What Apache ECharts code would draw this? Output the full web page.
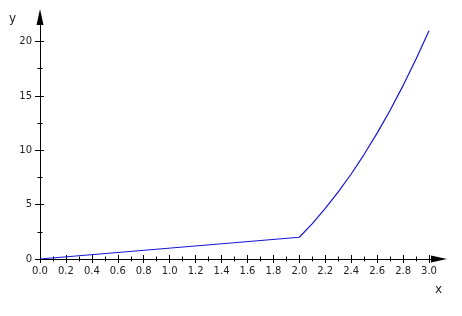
<!DOCTYPE html>
<html>
<head>
<meta charset="utf-8">
<script src="https://cdn.jsdelivr.net/npm/echarts@6/dist/echarts.min.js"></script>
<style>
html,body{margin:0;padding:0;background:#fff;}
#chart{width:462px;height:316px;}
</style>
</head>
<body>
<div id="chart"></div>
<script>
// Data
var xValues = [0, 2.0, 2.1, 2.2, 2.3, 2.4, 2.5, 2.6, 2.7, 2.8, 2.9, 3.0];
var yValues = [0, 2.0, 3.26, 4.65, 6.17, 7.82, 9.63, 11.58, 13.68, 15.95, 18.39, 21.0];
var xMajorTicks = [0, 0.2, 0.4, 0.6, 0.8, 1.0, 1.2, 1.4, 1.6, 1.8, 2.0, 2.2, 2.4, 2.6, 2.8, 3.0];
var xMinorTicks = [0.1, 0.3, 0.5, 0.7, 0.9, 1.1, 1.3, 1.5, 1.7, 1.9, 2.1, 2.3, 2.5, 2.7, 2.9];
var yMajorTicks = [0, 5, 10, 15, 20];
var yMinorTicks = [2.5, 7.5, 12.5, 17.5];

var X_MAX = 3.077, Y_MAX = 22.26;
var font = 'DejaVu Sans';
var axisColor = '#000';

function xAxisDef(ticks, len, inside, main) {
  return {
    type: 'value', position: 'bottom', offset: 0, min: 0, max: X_MAX,
    splitLine: {show: false},
    axisLine: main ? {show: true, onZero: false, symbol: ['none', 'triangle'], symbolSize: [7, 16],
      lineStyle: {color: axisColor, width: 1}} : {show: false, onZero: false},
    axisTick: {show: true, customValues: ticks, length: len, inside: inside,
      lineStyle: {color: axisColor, width: 1}},
    axisLabel: main ? {show: true, customValues: xMajorTicks, margin: 7, color: '#222',
      fontFamily: font, fontSize: 10,
      formatter: function (v) { return v.toFixed(1); }} : {show: false},
    minorTick: {show: false}
  };
}
function yAxisDef(ticks, len, inside, main) {
  return {
    type: 'value', position: 'left', offset: 0, min: 0, max: Y_MAX,
    splitLine: {show: false},
    axisLine: main ? {show: true, onZero: false, symbol: ['none', 'triangle'], symbolSize: [7, 16],
      lineStyle: {color: axisColor, width: 1}} : {show: false, onZero: false},
    axisTick: {show: true, customValues: ticks, length: len, inside: inside,
      lineStyle: {color: axisColor, width: 1}},
    axisLabel: main ? {show: true, customValues: yMajorTicks, margin: 8, color: '#222',
      fontFamily: font, fontSize: 10} : {show: false},
    minorTick: {show: false}
  };
}

var seriesData = xValues.map(function (x, i) { return [x, yValues[i]]; });

var chart = echarts.init(document.getElementById('chart'), null, {renderer: 'canvas'});
chart.setOption({
  animation: false,
  backgroundColor: '#fff',
  grid: {left: 40, top: 17, right: 23, bottom: 57, containLabel: false},
  xAxis: [
    xAxisDef(xMajorTicks, 4, false, true),
    xAxisDef(xMajorTicks, 4, true, false),
    xAxisDef(xMinorTicks, 2.5, false, false),
    xAxisDef(xMinorTicks, 2.5, true, false)
  ],
  yAxis: [
    yAxisDef(yMajorTicks, 5, false, true),
    yAxisDef(yMajorTicks, 4, true, false),
    yAxisDef(yMinorTicks, 2.5, false, false),
    yAxisDef(yMinorTicks, 2.5, true, false)
  ],
  graphic: [
    {type: 'text', left: 435, top: 284, style: {text: 'x', fontFamily: font, fontSize: 12, fill: '#222'}},
    {type: 'text', left: 9, top: 13, style: {text: 'y', fontFamily: font, fontSize: 12, fill: '#222'}}
  ],
  series: [{
    type: 'line', xAxisIndex: 0, yAxisIndex: 0,
    data: seriesData, showSymbol: false, smooth: false,
    lineStyle: {color: '#1515d8', width: 1.2}
  }]
});
</script>
</body>
</html>
